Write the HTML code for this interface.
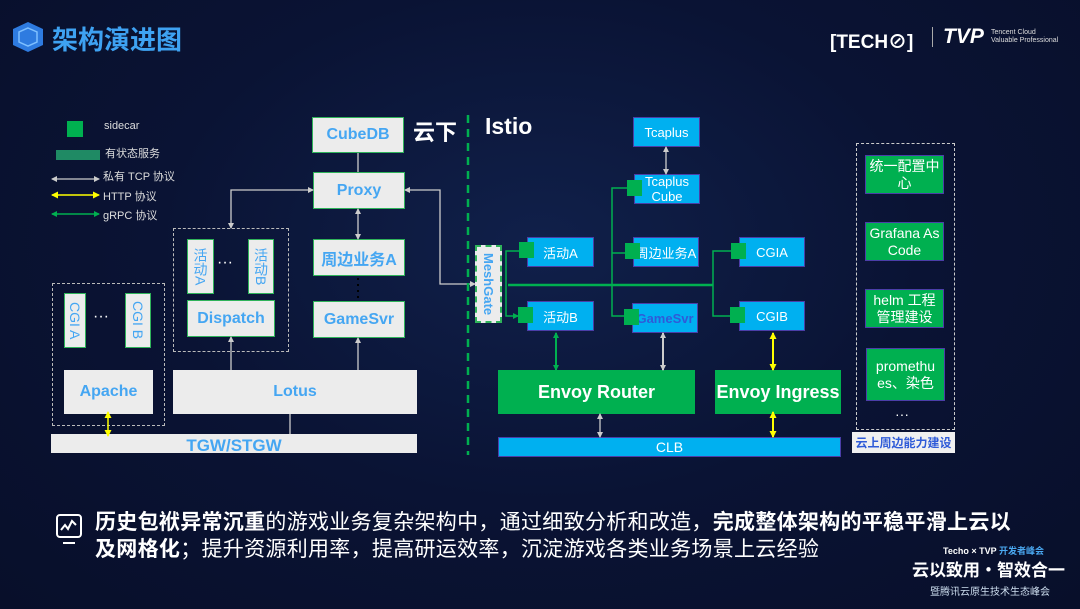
<!DOCTYPE html>
<html><head><meta charset="utf-8"><style>
*{margin:0;padding:0;box-sizing:border-box}
body{width:1080px;height:609px;overflow:hidden;background:#0a1132;font-family:"Liberation Sans","Noto Sans CJK SC",sans-serif;position:relative}
.bg{position:absolute;inset:0;background:radial-gradient(ellipse at 50% 40%,#10204a 0%,#0a1334 50%,#080f2a 100%)}
.a{position:absolute;display:flex;align-items:center;justify-content:center;text-align:center}
.g{background:#ececec;border:1px solid #2fb35a;color:#45a6f2;font-weight:bold;font-size:16px}
.gw{background:#ececec;color:#45a6f2;font-weight:bold;font-size:16px}
.b{background:#00b0f0;border:1px solid #4b3ea8;color:#fff;font-size:13px}
.gr{background:#00b050;color:#fff;font-weight:bold;font-size:18px}
.rg{background:#00b050;border:1px solid #4b3ea8;color:#fff;font-size:14px;line-height:17px}
.sc{position:absolute;width:15px;height:16px;background:#00b050}
.vt{writing-mode:vertical-rl;font-weight:normal;font-size:14px}
.t{position:absolute;color:#ddd;font-size:11px;white-space:nowrap}
</style></head><body>
<div class="bg"></div>
<svg style="position:absolute;left:10px;top:21px" width="36" height="32" viewBox="0 0 36 32"><polygon points="18,1 33,8 33,24 18,31 3,24 3,8" fill="#2e7be0"/><polygon points="18,7 27,11 27,21 18,25 9,21 9,11" fill="none" stroke="#7fc0ff" stroke-width="1.5"/></svg>
<div style="position:absolute;left:52px;top:20px;color:#3ea2f2;font-size:26px;font-weight:bold;font-family:'Noto Sans CJK SC',sans-serif;white-space:nowrap">架构演进图</div>
<div style="position:absolute;left:830px;top:27px;color:#fff;font-size:19px;font-weight:bold">[TECH⊘]</div>
<div style="position:absolute;left:932px;top:27px;width:1px;height:20px;background:#aaa"></div>
<div style="position:absolute;left:943px;top:25px;color:#fff;font-size:21px;font-weight:bold;font-style:italic">TVP</div>
<div style="position:absolute;left:991px;top:29px;color:#ddd;font-size:7px;line-height:8px">Tencent Cloud<br>Valuable Professional</div>
<div class="sc" style="left:67px;top:121px;width:16px"></div>
<div class="t" style="left:104px;top:120px">sidecar</div>
<div style="position:absolute;left:56px;top:150px;width:44px;height:10px;background:#1f8a64"></div>
<div class="t" style="left:105px;top:145px">有状态服务</div>
<div class="t" style="left:103px;top:168px">私有 TCP 协议</div>
<div class="t" style="left:103px;top:188px">HTTP 协议</div>
<div class="t" style="left:103px;top:207px">gRPC 协议</div>
<div class="a g" style="left:312px;top:117px;width:92px;height:36px">CubeDB</div>
<div class="a g" style="left:313px;top:172px;width:92px;height:37px">Proxy</div>
<div class="a g" style="left:313px;top:239px;width:92px;height:37px">周边业务A</div>
<div class="a g" style="left:313px;top:301px;width:92px;height:37px">GameSvr</div>
<div class="a gw" style="left:173px;top:370px;width:244px;height:44px">Lotus</div>
<div class="a gw" style="left:51px;top:434px;width:366px;height:19px;padding-top:4px;font-size:17px">TGW/STGW</div>
<div class="a gw" style="left:64px;top:370px;width:89px;height:44px">Apache</div>
<div style="position:absolute;left:52px;top:283px;width:113px;height:143px;border:1px dashed #bbb"></div>
<div class="a g vt" style="left:64px;top:293px;width:22px;height:55px;font-weight:normal">CGI A</div>
<div class="a g vt" style="left:125px;top:293px;width:26px;height:55px;font-weight:normal">CGI B</div>
<div class="t" style="left:93px;top:308px;font-size:16px;color:#fff">···</div>
<div style="position:absolute;left:173px;top:228px;width:116px;height:124px;border:1px dashed #bbb"></div>
<div class="a g vt" style="left:187px;top:239px;width:27px;height:55px;font-weight:normal">活动A</div>
<div class="a g vt" style="left:248px;top:239px;width:26px;height:55px;font-weight:normal">活动B</div>
<div class="t" style="left:217px;top:254px;font-size:16px;color:#fff">···</div>
<div class="a g" style="left:187px;top:300px;width:88px;height:37px">Dispatch</div>
<div style="position:absolute;left:413px;top:115px;color:#fff;font-size:22px;font-weight:bold;font-family:'Noto Sans CJK SC',sans-serif">云下</div>
<div style="position:absolute;left:485px;top:113px;color:#fff;font-size:23px;font-weight:bold">Istio</div>
<div class="a" style="left:475px;top:245px;width:27px;height:78px;background:#ececec;border:2px dashed #2fb35a;color:#45a6f2;font-weight:bold;font-size:13px;writing-mode:vertical-rl">MeshGate</div>
<div class="a b" style="left:633px;top:117px;width:67px;height:30px">Tcaplus</div>
<div class="a b" style="left:634px;top:174px;width:66px;height:30px;line-height:15px">Tcaplus<br>Cube</div>
<div class="a b" style="left:527px;top:237px;width:67px;height:30px">活动A</div>
<div class="a b" style="left:633px;top:237px;width:66px;height:30px">周边业务A</div>
<div class="a b" style="left:739px;top:237px;width:66px;height:30px">CGIA</div>
<div class="a b" style="left:527px;top:301px;width:67px;height:30px">活动B</div>
<div class="a b" style="left:632px;top:303px;width:66px;height:30px;color:#2f5bd8;font-weight:bold">GameSvr</div>
<div class="a b" style="left:739px;top:301px;width:66px;height:30px">CGIB</div>
<div class="sc" style="left:627px;top:180px"></div>
<div class="sc" style="left:519px;top:242px"></div>
<div class="sc" style="left:625px;top:243px"></div>
<div class="sc" style="left:731px;top:243px"></div>
<div class="sc" style="left:518px;top:307px"></div>
<div class="sc" style="left:624px;top:309px"></div>
<div class="sc" style="left:730px;top:307px"></div>
<div class="a gr" style="left:498px;top:370px;width:197px;height:44px">Envoy Router</div>
<div class="a gr" style="left:715px;top:370px;width:126px;height:44px">Envoy Ingress</div>
<div class="a" style="left:498px;top:437px;width:343px;height:20px;background:#00b0f0;color:#fff;font-size:14px;border:1px solid #4b3ea8">CLB</div>
<div style="position:absolute;left:856px;top:143px;width:99px;height:287px;border:1px dashed #ccc"></div>
<div class="a rg" style="left:865px;top:155px;width:79px;height:39px">统一配置中<br>心</div>
<div class="a rg" style="left:865px;top:222px;width:79px;height:39px">Grafana As<br>Code</div>
<div class="a rg" style="left:865px;top:289px;width:79px;height:39px">helm 工程<br>管理建设</div>
<div class="a rg" style="left:866px;top:348px;width:79px;height:53px">promethu<br>es、染色</div>
<div class="t" style="left:895px;top:406px;font-size:14px;color:#fff">···</div>
<div class="a" style="left:852px;top:432px;width:103px;height:21px;background:#f0f0f0;color:#2f5bd8;font-size:12px;font-weight:bold">云上周边能力建设</div>
<svg style="position:absolute;left:0;top:0" width="1080" height="609">
<defs>
<marker id="w" markerUnits="userSpaceOnUse" markerWidth="6" markerHeight="6" refX="5" refY="3" orient="auto-start-reverse"><path d="M0,0L6,3L0,6z" fill="#ccc"/></marker>
<marker id="y" markerUnits="userSpaceOnUse" markerWidth="7" markerHeight="7" refX="6" refY="3.5" orient="auto-start-reverse"><path d="M0,0L7,3.5L0,7z" fill="#ff0"/></marker>
<marker id="gm" markerUnits="userSpaceOnUse" markerWidth="6" markerHeight="6" refX="5" refY="3" orient="auto-start-reverse"><path d="M0,0L6,3L0,6z" fill="#00b050"/></marker>
</defs>
<g stroke="#ccc" stroke-width="1.3" fill="none">
<line x1="52" y1="179" x2="99" y2="179" marker-start="url(#w)" marker-end="url(#w)"/>
<line x1="358" y1="153" x2="358" y2="172"/>
<line x1="358" y1="209" x2="358" y2="239" marker-start="url(#w)" marker-end="url(#w)"/>
<polyline points="313,190 231,190 231,228" marker-start="url(#w)" marker-end="url(#w)"/>
<polyline points="405,190 440,190 440,284 475,284" marker-start="url(#w)" marker-end="url(#w)"/>
<line x1="231" y1="337" x2="231" y2="370" marker-start="url(#w)"/>
<line x1="358" y1="338" x2="358" y2="370" marker-start="url(#w)"/>
<line x1="290" y1="414" x2="290" y2="434"/>
<line x1="666" y1="147" x2="666" y2="174" marker-start="url(#w)" marker-end="url(#w)"/>
<line x1="663" y1="333" x2="663" y2="370" stroke-width="2" marker-start="url(#w)" marker-end="url(#w)"/>
<line x1="600" y1="414" x2="600" y2="437" marker-start="url(#w)" marker-end="url(#w)"/>
</g>
<line x1="358" y1="278" x2="358" y2="300" stroke="#000" stroke-width="2" stroke-dasharray="2,4"/>
<g stroke="#ff0" stroke-width="1.5" fill="none">
<line x1="52" y1="195" x2="99" y2="195" marker-start="url(#y)" marker-end="url(#y)"/>
<line x1="108" y1="412" x2="108" y2="436" marker-start="url(#y)" marker-end="url(#y)"/>
<line x1="773" y1="333" x2="773" y2="370" stroke-width="2" marker-start="url(#y)" marker-end="url(#y)"/>
<line x1="773" y1="412" x2="773" y2="437" stroke-width="2" marker-start="url(#y)" marker-end="url(#y)"/>
</g>
<g stroke="#00b050" stroke-width="1.5" fill="none">
<line x1="52" y1="214" x2="99" y2="214" marker-start="url(#gm)" marker-end="url(#gm)"/>
<line x1="508" y1="285" x2="713" y2="285" stroke-width="2.5"/>
<polyline points="519,251 506,251 506,316 518,316" marker-end="url(#gm)"/>
<polyline points="627,188 612,188 612,316 624,316"/>
<line x1="612" y1="253" x2="625" y2="253"/>
<polyline points="731,251 713,251 713,316 730,316"/>
<line x1="556" y1="333" x2="556" y2="370" stroke-width="2" marker-start="url(#gm)" marker-end="url(#gm)"/>
</g>
<line x1="468" y1="115" x2="468" y2="455" stroke="#00b050" stroke-width="2.5" stroke-dasharray="8,6"/>
</svg>
<svg style="position:absolute;left:55px;top:513px" width="28" height="34" viewBox="0 0 28 34"><rect x="2" y="2" width="24" height="22" rx="3" fill="none" stroke="#fff" stroke-width="2"/><polyline points="6,17 10,12 13,16 17,8 21,12" fill="none" stroke="#fff" stroke-width="2"/><line x1="8" y1="30" x2="20" y2="30" stroke="#fff" stroke-width="2"/></svg>
<div style="position:absolute;left:95px;top:508px;color:#fff;font-size:21px;line-height:27px;white-space:nowrap;font-family:'Noto Sans CJK SC',sans-serif;letter-spacing:0.3px"><b>历史包袱异常沉重</b>的游戏业务复杂架构中，通过细致分析和改造，<b>完成整体架构的平稳平滑上云以</b><br><b>及网格化</b>；提升资源利用率，提高研运效率，沉淀游戏各类业务场景上云经验</div>
<div style="position:absolute;left:943px;top:544px;color:#fff;font-size:9px;font-weight:bold;white-space:nowrap">Techo × TVP <span style="color:#4aa8f0">开发者峰会</span></div>
<div style="position:absolute;left:912px;top:556px;color:#fff;font-size:17px;font-weight:bold;font-family:'Noto Sans CJK SC',sans-serif;white-space:nowrap">云以致用·智效合一</div>
<div style="position:absolute;left:930px;top:583px;color:#cde;font-size:10px;font-family:'Noto Sans CJK SC',sans-serif;white-space:nowrap">暨腾讯云原生技术生态峰会</div>
</body></html>
